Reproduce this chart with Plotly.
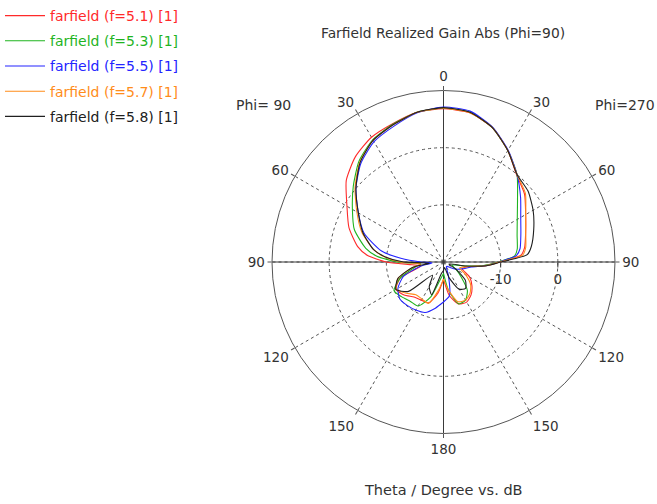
import plotly.graph_objects as go

# Theta (degrees) sampled on both half-planes
theta = [0, 10, 20, 30, 40, 50, 60, 70, 80, 85, 90, 95, 100, 110, 120, 130, 140, 150, 160, 170, 180]

series_names = ["farfield (f=5.1) [1]", "farfield (f=5.3) [1]", "farfield (f=5.5) [1]",
                "farfield (f=5.7) [1]", "farfield (f=5.8) [1]"]
series_colors = ["#ff2a2a", "#1fb41f", "#2424ff", "#ff8c1a", "#202020"]

# Realized gain (dB) on the Phi=270 half (right) and the Phi=90 half (left)
red_phi270 = [6.8, 6.5, 5.0, 2.5, -0.1, -1.5, -3.4, -4.7, -5.6, -6.4, -10.2, -12.8, -15.5, -16.5, -14.7, -13.5, -12.5, -11.9, -12.2, -14.0, -17.0]
red_phi90 = [6.8, 6.6, 5.8, 5.2, 4.0, 2.2, -0.5, -2.4, -4.8, -6.6, -10.0, -14.5, -16.0, -12.0, -10.4, -11.0, -12.0, -12.3, -12.4, -14.5, -17.0]

green_phi270 = [6.9, 6.6, 5.0, 2.5, 0.0, -3.1, -5.1, -6.3, -6.9, -7.5, -10.4, -13.0, -16.0, -18.5, -17.5, -16.0, -13.5, -12.3, -12.2, -15.0, -18.0]
green_phi90 = [6.9, 6.6, 5.7, 4.7, 3.0, 0.6, -1.6, -3.4, -6.2, -8.3, -12.0, -16.0, -15.0, -12.0, -10.0, -10.5, -11.0, -11.1, -13.5, -17.0, -18.0]

blue_phi270 = [7.1, 6.8, 5.1, 2.6, 0.0, -2.4, -4.4, -5.6, -6.4, -7.2, -10.3, -12.5, -15.0, -16.5, -17.5, -18.5, -19.0, -19.0, -17.5, -14.0, -13.0]
blue_phi90 = [7.1, 6.5, 5.3, 4.3, 2.5, 0.0, -2.8, -5.2, -9.0, -12.5, -16.0, -18.0, -16.0, -12.5, -10.8, -10.0, -10.1, -10.3, -10.6, -11.8, -13.0]

orange_phi270 = [6.9, 6.5, 5.0, 2.5, 0.0, -1.3, -3.4, -4.7, -5.4, -6.1, -10.2, -12.5, -15.5, -17.0, -15.5, -13.8, -12.8, -12.3, -12.6, -15.0, -17.0]
orange_phi90 = [6.9, 6.6, 5.6, 4.6, 2.8, 0.2, -2.5, -4.8, -7.6, -9.6, -12.5, -16.0, -14.5, -11.5, -10.5, -11.5, -12.5, -12.5, -12.3, -15.0, -17.0]

black_phi270 = [7.0, 6.6, 5.0, 2.5, 0.0, -0.7, -1.9, -3.2, -4.4, -5.3, -10.0, -12.5, -16.0, -19.0, -17.5, -15.0, -14.0, -14.5, -17.0, -19.0, -18.5]
black_phi90 = [7.0, 6.6, 5.6, 4.6, 2.7, 0.0, -2.8, -5.0, -7.6, -9.8, -13.0, -17.5, -14.5, -11.5, -10.4, -12.0, -17.0, -15.0, -13.9, -18.0, -18.5]

series_right = [red_phi270, green_phi270, blue_phi270, orange_phi270, black_phi270]
series_left = [red_phi90, green_phi90, blue_phi90, orange_phi90, black_phi90]

angle_ticks = [0, 30, 60, 90, 120, 150, 180, 210, 240, 270, 300, 330]
angle_labels = ["0", "30", "60", "90", "120", "150", "180", "150", "120", "90", "60", "30"]
r_range = [-20, 10]
r_ticks = [-10, 0]

FONT = "DejaVu Sans"
AX = "#3a3a3a"
GRID = "#555555"
TXT = "#333333"

fig = go.Figure()

# solid cross lines through the centre
fig.add_trace(go.Scatterpolar(r=[r_range[1], r_range[0], r_range[1]], theta=[0, 0, 180],
                              mode="lines", line=dict(color=AX, width=1),
                              showlegend=False, hoverinfo="skip"))
fig.add_trace(go.Scatterpolar(r=[r_range[1], r_range[0], r_range[1]], theta=[90, 90, 270],
                              mode="lines", line=dict(color=AX, width=1),
                              showlegend=False, hoverinfo="skip"))

for i, (name, col, rr, rl) in enumerate(zip(series_names, series_colors, series_right, series_left)):
    th = list(theta) + [360 - t for t in reversed(theta)]
    rv = list(rr) + list(reversed(rl))
    fig.add_trace(go.Scatterpolar(
        r=rv, theta=th, mode="lines",
        line=dict(color=col, width=1.1, shape="spline", smoothing=0.6),
        name='<span style="color:%s">%s</span>' % (col, name),
        legendgroup="g%d" % i,
    ))

def note(text, x, y, size):
    return dict(text=text, x=x / 657, y=1 - y / 504, xref="paper", yref="paper",
                xanchor="center", yanchor="middle", showarrow=False,
                font=dict(family=FONT, size=size, color=TXT))

fig.update_layout(
    width=657, height=504,
    margin=dict(l=0, r=0, t=0, b=0),
    paper_bgcolor="white", plot_bgcolor="white",
    font=dict(family=FONT, size=12, color=TXT),
    showlegend=True,
    legend=dict(x=0.0, y=1.0, xanchor="left", yanchor="top",
                font=dict(family=FONT, size=14), tracegroupgap=4,
                itemwidth=40, bgcolor="rgba(0,0,0,0)"),
    polar=dict(
        domain=dict(x=[272 / 657, 615 / 657], y=[70.5 / 504, 413.5 / 504]),
        bgcolor="white",
        angularaxis=dict(direction="clockwise", rotation=90,
                         tickmode="array", tickvals=angle_ticks, ticktext=angle_labels,
                         showline=True, linecolor="#555555", linewidth=1,
                         showgrid=True, gridcolor=GRID, griddash="3px,3px", gridwidth=1,
                         ticks="outside", ticklen=4, tickcolor="#555555",
                         tickfont=dict(family=FONT, size=13.5, color=TXT)),
        radialaxis=dict(range=r_range, tickmode="array", tickvals=r_ticks,
                        ticktext=[str(v) for v in r_ticks],
                        showline=False, showgrid=True, gridcolor=GRID, griddash="3px,3px",
                        angle=0, side="clockwise", ticks="outside", ticklen=5, tickcolor=AX,
                        tickfont=dict(family=FONT, size=13.5, color=TXT)),
    ),
    annotations=[
        note("Farfield Realized Gain Abs (Phi=90)", 443, 33, 13.8),
        note("Phi= 90", 263, 105, 14),
        note("Phi=270", 625, 105, 14),
        note("Theta / Degree vs. dB", 443, 490, 14.5),
    ],
)

fig.write_html("out.html", config={"displayModeBar": False},
               post_script="document.body.style.margin='0';document.body.style.overflow='hidden';")
